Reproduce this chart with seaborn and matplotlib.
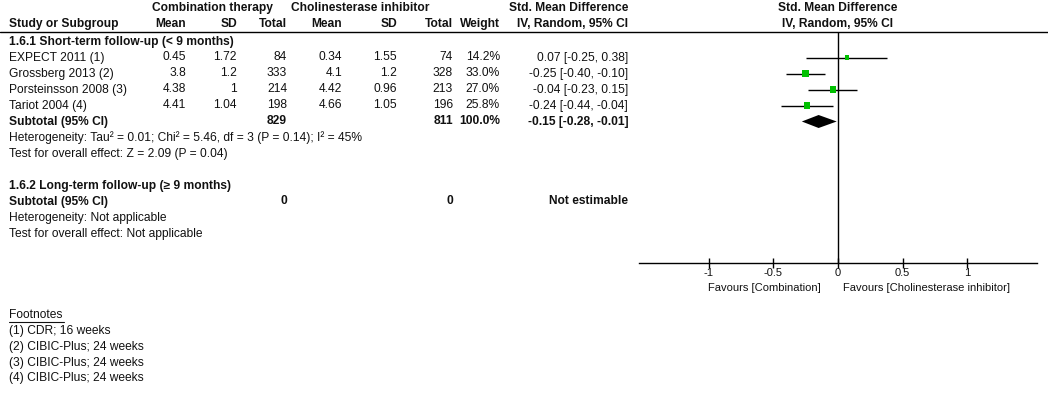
import numpy as np
import pandas as pd
import matplotlib
matplotlib.use("Agg")
import matplotlib.pyplot as plt
import seaborn as sns

# ---------------- data ----------------
studies = ["EXPECT 2011 (1)", "Grossberg 2013 (2)", "Porsteinsson 2008 (3)", "Tariot 2004 (4)"]
comb_mean = ["0.45", "3.8", "4.38", "4.41"]
comb_sd = ["1.72", "1.2", "1", "1.04"]
comb_total = [84, 333, 214, 198]
chol_mean = ["0.34", "4.1", "4.42", "4.66"]
chol_sd = ["1.55", "1.2", "0.96", "1.05"]
chol_total = [74, 328, 213, 196]
weights = [14.2, 33.0, 27.0, 25.8]
smd = [0.07, -0.25, -0.04, -0.24]
ci_lo = [-0.25, -0.40, -0.23, -0.44]
ci_hi = [0.38, -0.10, 0.15, -0.04]
sub_smd, sub_lo, sub_hi = -0.15, -0.28, -0.01
sub_comb_total, sub_chol_total = 829, 811
tick_vals = [-1, -0.5, 0, 0.5, 1]
tick_labels = ["-1", "-0.5", "0", "0.5", "1"]
footnotes = ["(1) CDR; 16 weeks", "(2) CIBIC-Plus; 24 weeks",
             "(3) CIBIC-Plus; 24 weeks", "(4) CIBIC-Plus; 24 weeks"]

# ---------------- style ----------------
sns.set_style("white")
plt.rcParams["font.family"] = ["Liberation Sans", "DejaVu Sans"]
plt.rcParams["axes.unicode_minus"] = False
FS = 8.65
FS_AX = 8.0
TXT = "#111111"
GREEN = "#00c000"

W, H = 1048, 399
fig = plt.figure(figsize=(W / 100, H / 100), dpi=100)
ax_t = fig.add_axes([0, 0, 1, 1])
ax_t.set_xlim(0, W)
ax_t.set_ylim(H, 0)
ax_t.axis("off")

def row_y(i):
    return 41.5 + 16 * i

def t(x, y, s, ha="left", bold=False, fs=FS):
    ax_t.text(x, y, s, ha=ha, va="center", fontsize=fs, color=TXT,
              fontweight="bold" if bold else "normal")

# column right edges
X_STUDY = 9
X_CM, X_CSD, X_CT = 186, 237, 287
X_HM, X_HSD, X_HT = 342, 397, 453
X_W, X_CI = 500, 628

# headers
t(212, 8, "Combination therapy", ha="center", bold=True)
t(360, 8, "Cholinesterase inhibitor", ha="center", bold=True)
t(X_CI, 8, "Std. Mean Difference", ha="right", bold=True)
t(838, 8, "Std. Mean Difference", ha="center", bold=True)
t(X_STUDY, 24, "Study or Subgroup", bold=True)
for x, s in [(X_CM, "Mean"), (X_CSD, "SD"), (X_CT, "Total"), (X_HM, "Mean"),
             (X_HSD, "SD"), (X_HT, "Total"), (X_W, "Weight"), (X_CI, "IV, Random, 95% CI")]:
    t(x, 24, s, ha="right", bold=True)
t(838, 24, "IV, Random, 95% CI", ha="center", bold=True)
ax_t.plot([0, W], [32, 32], color="black", lw=1)

# subgroup 1
t(X_STUDY, row_y(0), "1.6.1 Short-term follow-up (< 9 months)", bold=True)
for i, name in enumerate(studies):
    y = row_y(i + 1)
    t(X_STUDY, y, name)
    t(X_CM, y, comb_mean[i], ha="right")
    t(X_CSD, y, comb_sd[i], ha="right")
    t(X_CT, y, str(comb_total[i]), ha="right")
    t(X_HM, y, chol_mean[i], ha="right")
    t(X_HSD, y, chol_sd[i], ha="right")
    t(X_HT, y, str(chol_total[i]), ha="right")
    t(X_W, y, f"{weights[i]:.1f}%", ha="right")
    t(X_CI, y, f"{smd[i]:.2f} [{ci_lo[i]:.2f}, {ci_hi[i]:.2f}]", ha="right")
y = row_y(5)
t(X_STUDY, y, "Subtotal (95% CI)", bold=True)
t(X_CT, y, str(sub_comb_total), ha="right", bold=True)
t(X_HT, y, str(sub_chol_total), ha="right", bold=True)
t(X_W, y, f"{sum(weights):.1f}%", ha="right", bold=True)
t(X_CI, y, f"{sub_smd:.2f} [{sub_lo:.2f}, {sub_hi:.2f}]", ha="right", bold=True)
t(X_STUDY, row_y(6), "Heterogeneity: Tau² = 0.01; Chi² = 5.46, df = 3 (P = 0.14); I² = 45%")
t(X_STUDY, row_y(7), "Test for overall effect: Z = 2.09 (P = 0.04)")

# subgroup 2
t(X_STUDY, row_y(9), "1.6.2 Long-term follow-up (≥ 9 months)", bold=True)
y = row_y(10)
t(X_STUDY, y, "Subtotal (95% CI)", bold=True)
t(X_CT, y, "0", ha="right", bold=True)
t(X_HT, y, "0", ha="right", bold=True)
t(X_CI, y, "Not estimable", ha="right", bold=True)
t(X_STUDY, row_y(11), "Heterogeneity: Not applicable")
t(X_STUDY, row_y(12), "Test for overall effect: Not applicable")

# footnotes
t(X_STUDY, 315, "Footnotes")
ax_t.plot([X_STUDY, 64], [321.5, 321.5], color=TXT, lw=0.8)
for i, s in enumerate(footnotes):
    t(X_STUDY, 331 + 15.8 * i, s)

# ---------------- forest panel ----------------
AX_L, AX_R, AX_TOP, AX_BOT = 639, 1037, 32, 263
ax = fig.add_axes([AX_L / W, 1 - AX_BOT / H, (AX_R - AX_L) / W, (AX_BOT - AX_TOP) / H])
ax.set_facecolor("none")
ax.set_xlim(-1.54, 1.54)
ax.set_ylim(AX_BOT, AX_TOP)

ys = [row_y(i + 1) for i in range(len(studies))]
df = pd.DataFrame({"smd": smd, "y": ys, "w": weights, "lo": ci_lo, "hi": ci_hi})
ax.hlines(df["y"], df["lo"], df["hi"], color="black", lw=1, zorder=2)
sns.scatterplot(data=df, x="smd", y="y", size="w", sizes=(0, 28), size_norm=(0, 33),
                marker="s", color=GREEN, edgecolor="none", linewidth=0, legend=False,
                ax=ax, zorder=3)
yc = row_y(5)
hh = 6.5
ax.fill([sub_lo, sub_smd, sub_hi, sub_smd], [yc, yc - hh, yc, yc + hh],
        color="black", lw=0, zorder=3)
ax.axvline(0, color="black", lw=1, zorder=1)

for s in ["top", "left", "right"]:
    ax.spines[s].set_visible(False)
ax.spines["bottom"].set_color("black")
ax.spines["bottom"].set_linewidth(1)
ax.set_yticks([])
ax.set_xticks(tick_vals)
ax.set_xticklabels(tick_labels)
ax.tick_params(axis="x", direction="inout", length=7, width=1, color="black",
               labelsize=FS_AX, labelcolor=TXT, pad=0, bottom=True)
ax.set_xlabel("")
ax.set_ylabel("")

t(821, 288, "Favours [Combination]", ha="right", fs=FS_AX)
t(843, 288, "Favours [Cholinesterase inhibitor]", ha="left", fs=FS_AX)

fig.savefig("out.png", dpi=100)
